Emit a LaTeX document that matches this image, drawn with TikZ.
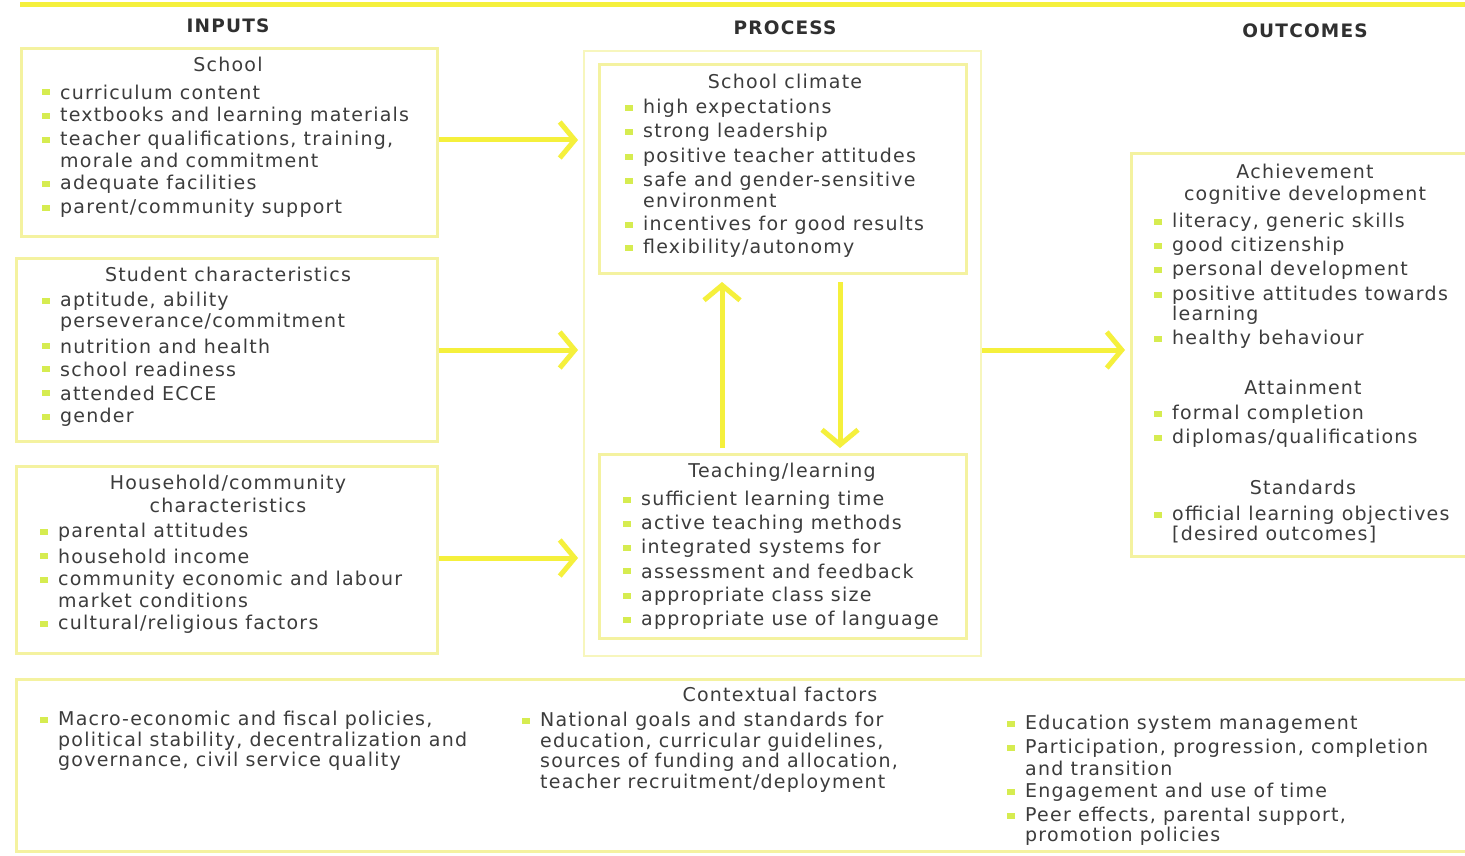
\documentclass[tikz,border=0pt]{standalone}
\usepackage{fontspec}
\setmainfont{DejaVu Sans}[LetterSpace=6.5]
\usetikzlibrary{arrows.meta}
\definecolor{boxline}{RGB}{244,242,160}
\definecolor{arrowy}{RGB}{245,240,60}
\definecolor{bulc}{RGB}{214,236,80}
\definecolor{txtc}{RGB}{60,60,60}
\newcounter{itc}
\newcommand{\bitem}[3]{\stepcounter{itc}%
  \node[bul] (b\arabic{itc}) at (#1-14,#2) {};
  \node[txt] (t\arabic{itc}) at (#1,#2) {#3};}
\newcommand{\contline}[3]{\stepcounter{itc}%
  \node[txt] (t\arabic{itc}) at (#1,#2) {#3};}
\tikzset{
  box/.style={draw=boxline, line width=3pt},
  bul/.style={fill=bulc, minimum width=8pt, minimum height=6pt, inner sep=0pt},
  txt/.style={anchor=west, inner sep=0pt, text=txtc, font=\fontsize{19}{21}\selectfont},
  ttl/.style={inner sep=0pt, text=txtc, font=\fontsize{19}{21}\selectfont},
  head/.style={inner sep=0pt, text=txtc!80!black, font=\fontsize{18.5}{21}\selectfont\bfseries},
  arr/.style={draw=arrowy, line width=5pt, -{Straight Barb[length=15pt,width=36pt,line width=5pt]}}
}
\begin{document}
\begin{tikzpicture}[x=1pt,y=-1pt]
\useasboundingbox[fill=white] (0,0) rectangle (1465,856);
\draw[draw=arrowy, line width=5pt] (20,5) -- (1465,5);

% headings
\node[head] (hin) at (228,26) {INPUTS};
\node[head] (hpr) at (785,28) {PROCESS};
\node[head] (hout) at (1305,31) {OUTCOMES};

% boxes
\node[box, minimum width=416pt, minimum height=188pt, anchor=north west] (school) at (20,47) {};
\node[box, minimum width=421pt, minimum height=183pt, anchor=north west] (student) at (15,257) {};
\node[box, minimum width=421pt, minimum height=187pt, anchor=north west] (house) at (15,465) {};
\node[draw=boxline!70, line width=2pt, minimum width=397pt, minimum height=605pt, anchor=north west] (proc) at (583,50) {};
\node[box, minimum width=367pt, minimum height=209pt, anchor=north west] (climate) at (598,63) {};
\node[box, minimum width=367pt, minimum height=184pt, anchor=north west] (teach) at (598,453) {};
\node[box, minimum width=340pt, minimum height=403pt, anchor=north west] (outc) at (1130,152) {};
\node[box, minimum width=1455pt, minimum height=172pt, anchor=north west] (ctx) at (15,678) {};

% School
\node[ttl] (tschool) at (228,64) {School};
\bitem{60}{92}{curriculum content}
\bitem{60}{116}{textbooks and learning materials}
\bitem{60}{140}{teacher qualifications, training,}
\contline{60}{160}{morale and commitment}
\bitem{60}{184}{adequate facilities}
\bitem{60}{208}{parent/community support}

% Student
\node[ttl] (tstud) at (228,274) {Student characteristics};
\bitem{60}{301}{aptitude, ability}
\contline{60}{322}{perseverance/commitment}
\bitem{60}{346}{nutrition and health}
\bitem{60}{369}{school readiness}
\bitem{60}{393}{attended ECCE}
\bitem{60}{417}{gender}

% Household
\node[ttl] (thouse1) at (228,484) {Household/community};
\node[ttl] (thouse2) at (228,505) {characteristics};
\bitem{58}{532}{parental attitudes}
\bitem{58}{556}{household income}
\bitem{58}{580}{community economic and labour}
\contline{58}{600}{market conditions}
\bitem{58}{624}{cultural/religious factors}

% School climate
\node[ttl] (tclim) at (785,81) {School climate};
\bitem{643}{108}{high expectations}
\bitem{643}{132}{strong leadership}
\bitem{643}{157}{positive teacher attitudes}
\bitem{643}{181}{safe and gender-sensitive}
\contline{643}{200}{environment}
\bitem{643}{225}{incentives for good results}
\bitem{643}{248}{flexibility/autonomy}

% Teaching
\node[ttl] (tteach) at (782,472) {Teaching/learning};
\bitem{641}{500}{sufficient learning time}
\bitem{641}{524}{active teaching methods}
\bitem{641}{548}{integrated systems for}
\bitem{641}{571}{assessment and feedback}
\bitem{641}{596}{appropriate class size}
\bitem{641}{620}{appropriate use of language}

% Outcomes
\node[ttl] (tach) at (1305,171) {Achievement};
\node[ttl] (tcog) at (1305,195) {cognitive development};
\bitem{1172}{222}{literacy, generic skills}
\bitem{1172}{246}{good citizenship}
\bitem{1172}{270}{personal development}
\bitem{1172}{295}{positive attitudes towards}
\contline{1172}{315}{learning}
\bitem{1172}{339}{healthy behaviour}
\node[ttl] (tatt) at (1303,387) {Attainment};
\bitem{1172}{414}{formal completion}
\bitem{1172}{438}{diplomas/qualifications}
\node[ttl] (tstd) at (1303,487) {Standards};
\bitem{1172}{515}{official learning objectives}
\contline{1172}{535}{[desired outcomes]}

% Context
\node[ttl] (tctx) at (780,694) {Contextual factors};
\bitem{58}{720}{Macro-economic and fiscal policies,}
\contline{58}{741}{political stability, decentralization and}
\contline{58}{761}{governance, civil service quality}
\bitem{540}{721}{National goals and standards for}
\contline{540}{742}{education, curricular guidelines,}
\contline{540}{762}{sources of funding and allocation,}
\contline{540}{783}{teacher recruitment/deployment}
\bitem{1025}{724}{Education system management}
\bitem{1025}{748}{Participation, progression, completion}
\contline{1025}{768}{and transition}
\bitem{1025}{792}{Engagement and use of time}
\bitem{1025}{816}{Peer effects, parental support,}
\contline{1025}{836}{promotion policies}

% arrows
\coordinate (a1) at (440,140); \coordinate (a1e) at (578,140);
\coordinate (a2) at (440,350); \coordinate (a2e) at (578,350);
\coordinate (a3) at (440,558); \coordinate (a3e) at (578,558);
\coordinate (a4) at (985,350); \coordinate (a4e) at (1125,350);
\draw[arr] (school.east |- a1) -- (a1e);
\draw[arr] (student.east |- a2) -- (a2e);
\draw[arr] (house.east |- a3) -- (a3e);
\draw[arr] (proc.east |- a4) -- (a4e);
\coordinate (u1) at (722,448); \coordinate (u2) at (722,282);
\coordinate (d1) at (840,282); \coordinate (d2) at (840,448);
\draw[arr] (u1) -- (u2);
\draw[arr] (d1) -- (d2);
\end{tikzpicture}
\end{document}
